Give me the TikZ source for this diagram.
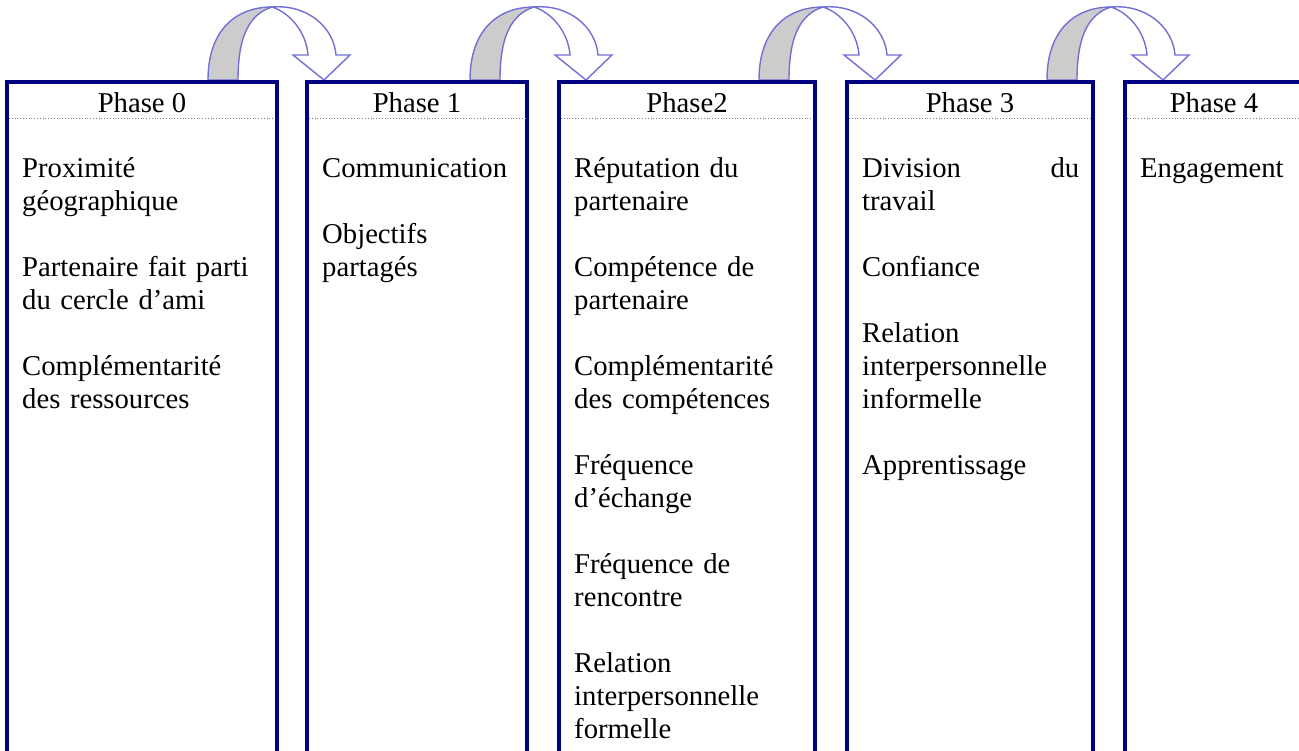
\documentclass[tikz,border=0pt]{standalone}
\usepackage{fontspec}
\setmainfont{Liberation Serif}
\usepackage{xcolor}
\definecolor{phasenavy}{RGB}{0,0,128}
\definecolor{arcblue}{RGB}{112,112,214}
\definecolor{arcgray}{RGB}{204,204,204}
\usepackage{tikz}
\tikzset{
  phaseframe/.style={draw=phasenavy,line width=4pt,line join=miter},
  headrule/.style  ={draw=gray,line width=0.8pt,dotted},
  headtext/.style  ={anchor=base,inner sep=0pt,font=\fontsize{28.7}{33}\selectfont},
  bodytext/.style  ={anchor=base west,align=left,inner sep=0pt,
                     font=\fontsize{28.7}{33}\selectfont},
  arcback/.style   ={draw=arcblue,line width=1.4pt,fill=arcgray},
  arcfront/.style  ={draw=arcblue,line width=1.4pt,fill=white,line join=miter},
}

\begin{document}
\begin{tikzpicture}[x=1pt,y=-1pt]
  \useasboundingbox (0,0) rectangle (1299,750);
  \def\pgap{33pt}
  % curved arrows from one phase to the next
  \foreach \bx in {208,470,759,1047}{
    \begin{scope}[shift={(\bx,80)}]
      \filldraw[arcback] (0,0) .. controls (0,-50) and (28,-73) .. (64,-73)
        .. controls (42,-66) and (30,-45) .. (30,0) -- cycle;
      \filldraw[arcfront] (64,-73) .. controls (100,-76) and (126,-52) .. (128,-25)
        -- (142,-25) -- (116,0) -- (85,-25) -- (100,-25)
        .. controls (98,-50) and (80,-68) .. (64,-73) -- cycle;
    \end{scope}
  }
  \foreach \l/\r/\n/\name in {7/277/0/Phase 0, 307/527/1/Phase 1, 559/815/2/Phase2,
                              847/1093/3/Phase 3, 1125/1303/4/Phase 4}{
    \draw[phaseframe] (\l,760) -- (\l,82) -- (\r,82) -- (\r,760);
    \draw[headrule] (\l+2,118) -- (\r-2,118);
    \node[headtext] (h\n) at ({(\l+\r)/2},112) {\name};
  }
  \node[bodytext,text width=240pt] (b0) at (22,177)
    {Proximité\\géographique\\[\pgap]Partenaire fait parti\\du cercle d’ami\\[\pgap]%
     Complémentarité\\des ressources};
  \node[bodytext,text width=195pt] (b1) at (322,177)
    {Communication\\[\pgap]Objectifs\\partagés};
  \node[bodytext,text width=230pt] (b2) at (574,177)
    {Réputation du\\partenaire\\[\pgap]Compétence de\\partenaire\\[\pgap]%
     Complémentarité\\des compétences\\[\pgap]Fréquence\\d’échange\\[\pgap]%
     Fréquence de\\rencontre\\[\pgap]Relation\\interpersonnelle\\formelle};
  \node[bodytext,text width=217pt] (b3) at (862,177)
    {Division\hfill du\\travail\\[\pgap]Confiance\\[\pgap]Relation\\%
     interpersonnelle\\informelle\\[\pgap]Apprentissage};
  \node[bodytext,text width=150pt] (b4) at (1140,177) {Engagement};
\end{tikzpicture}
\end{document}
